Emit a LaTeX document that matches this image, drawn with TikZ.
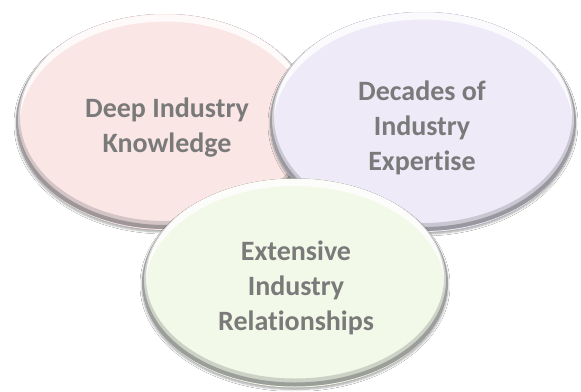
\documentclass[tikz,border=0pt]{standalone}
\usepackage{fontspec}
\setmainfont[RawFeature={-liga;-clig;-dlig}]{Carlito}
\usetikzlibrary{shapes.geometric,shadows.blur}
\definecolor{pinkfill}{RGB}{251,230,230}
\definecolor{purplefill}{RGB}{238,234,248}
\definecolor{greenfill}{RGB}{243,249,232}
\definecolor{txtgray}{RGB}{122,122,122}
\definecolor{rimgray}{RGB}{95,95,100}
\tikzset{
  bubble/.style n args={3}{ellipse, minimum width=#1, minimum height=#2,
    inner sep=0pt, fill=#3,
    blur shadow={shadow xshift=0pt, shadow yshift=-2pt, shadow blur steps=5,
      shadow blur radius=2pt, shadow opacity=35},
    path picture={
      \draw[white, line width=7pt, opacity=.8]
        ([yshift=-4pt]path picture bounding box.center)
        ellipse [x radius=#1/2, y radius=#2/2];
      \draw[rimgray, line width=8pt, opacity=.25]
        ([yshift=5pt]path picture bounding box.center)
        ellipse [x radius=#1/2, y radius=#2/2];
      \draw[rimgray, line width=4pt, opacity=.45]
        ([yshift=3pt]path picture bounding box.center)
        ellipse [x radius=#1/2, y radius=#2/2];
    }},
  btext/.style={text=txtgray, font=\bfseries\fontsize{28}{35}\selectfont,
    align=center, inner sep=0pt}
}
\begin{document}
\begin{tikzpicture}[x=1pt,y=-1pt]
\useasboundingbox[fill=white] (0,0) rectangle (581,391);
\node[bubble={298pt}{216pt}{pinkfill}] (pink) at (165,122) {};
\node[bubble={306pt}{220pt}{purplefill}] (purple) at (423,122) {};
\node[bubble={306pt}{209pt}{greenfill}] (green) at (295,283) {};
\node[btext] (tpink) at (167,128) {Deep Industry\\Knowledge};
\node[btext] (tpurple) at (422,128) {Decades of\\Industry\\Expertise};
\node[btext] (tgreen) at (296,288) {Extensive\\Industry\\Relationships};
\end{tikzpicture}
\end{document}
